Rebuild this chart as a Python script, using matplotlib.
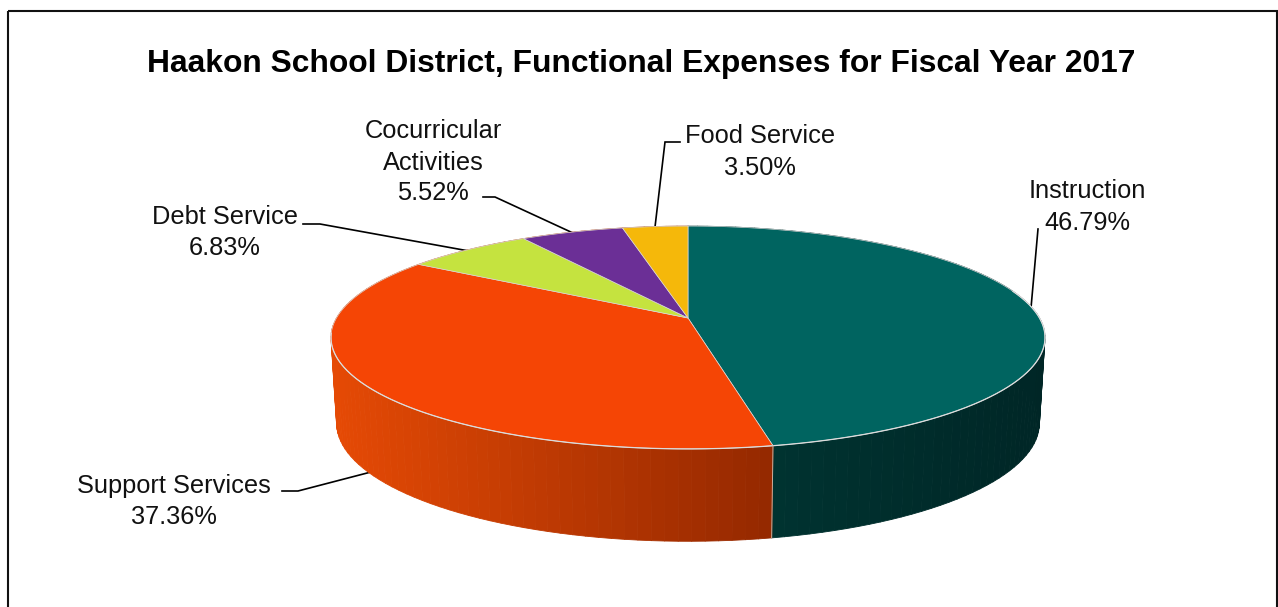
import numpy as np
import matplotlib
matplotlib.use('Agg')
import matplotlib.pyplot as plt
from matplotlib.collections import PolyCollection
from matplotlib.patches import Rectangle

plt.rcParams['font.family'] = ['Liberation Sans', 'DejaVu Sans']

title = 'Haakon School District, Functional Expenses for Fiscal Year 2017'
categories = ['Instruction', 'Support Services', 'Debt Service', 'Cocurricular Activities', 'Food Service']
shares = [46.79, 37.36, 6.83, 5.52, 3.50]
colors = ['#006460', '#F54505', '#C5E33F', '#6B2F96', '#F5B80A']

# side wall shading, left to right across the pie
side_x = [331, 773]
side_orange = [(0.90, 0.29, 0.02), (0.58, 0.16, 0.0)]
side_x2 = [773, 1045]
side_teal = [(0.0, 0.20, 0.19), (0.0, 0.15, 0.15)]

# label lines: text, x centre, y centre
label_lines = [
    ('Instruction', 1087, 191), ('46.79%', 1087, 223),
    ('Support Services', 174, 486), ('37.36%', 174, 517),
    ('Debt Service', 225, 217), ('6.83%', 225, 248),
    ('Cocurricular', 433, 131), ('Activities', 433, 163), ('5.52%', 433, 193),
    ('Food Service', 760, 136), ('3.50%', 760, 168),
]

leaders = [
    [(1038, 229), (1031, 308)],
    [(282, 491), (298, 491), (371, 472)],
    [(303, 224), (320, 224), (469, 251)],
    [(483, 197), (495, 197), (573, 233)],
    [(680, 142), (665, 142), (655, 227)],
]


def project(ang, cx=688.0, cy=318.0, a=351.5, b=108.0, k=0.175):
    # circle point to screen, clockwise from the top, with a bit of perspective
    u = np.sin(ang)
    v = np.cos(ang)
    d = 1 + k * v
    return cx + a * u / d, cy - b * v / d


def project_bottom(ang):
    return project(ang, cy=402.5, a=346.0, b=114.5)


fig = plt.figure(figsize=(12.78, 6.07), dpi=100)
ax = fig.add_axes([0, 0, 1, 1])
ax.set_xlim(0, 1278)
ax.set_ylim(607, 0)
ax.axis('off')

ax.add_patch(Rectangle((8, 10.5), 1269, 620, fill=False, edgecolor='#111111', lw=1.5))

edges = np.radians(np.concatenate([[0], np.cumsum(shares)]) * 3.6)

# side wall
for i in range(len(shares)):
    ang = np.linspace(edges[i], edges[i + 1], max(4, int(shares[i] * 2)))
    xt, yt = project(ang)
    xb, yb = project_bottom(ang)
    polys = []
    cols = []
    for j in range(len(ang) - 1):
        polys.append([(xt[j], yt[j]), (xt[j + 1], yt[j + 1]), (xb[j + 1], yb[j + 1]), (xb[j], yb[j])])
        xm = (xt[j] + xt[j + 1]) / 2
        if i == 0:
            c = [np.interp(xm, side_x2, [p[n] for p in side_teal]) for n in range(3)]
        else:
            c = [np.interp(xm, side_x, [p[n] for p in side_orange]) for n in range(3)]
        cols.append(c)
    ax.add_collection(PolyCollection(polys, facecolors=cols, edgecolors=cols, linewidths=0.6, zorder=2))

# top face
cx0, cy0 = project(0.0, a=0.0, b=0.0)
for i in range(len(shares)):
    ang = np.linspace(edges[i], edges[i + 1], max(4, int(shares[i] * 5)))
    xt, yt = project(ang)
    ax.fill(np.r_[cx0, xt], np.r_[cy0, yt], facecolor=colors[i], edgecolor='#d9d9d9',
            linewidth=0.5, zorder=3, joinstyle='round')

# light rim along the front and the seam between the two front walls
ang = np.linspace(np.radians(75), np.radians(262), 300)
xt, yt = project(ang)
ax.plot(xt, yt, color='#dcdcdc', lw=0.9, zorder=4)
xt, yt = project(edges[1])
xb, yb = project_bottom(edges[1])
ax.plot([xt, xb], [yt, yb], color='#c9b0a0', lw=0.7, zorder=4)

for pts in leaders:
    ax.plot([p[0] for p in pts], [p[1] for p in pts], color='black', lw=1.2, zorder=1,
            solid_joinstyle='miter')

ax.text(641.5, 64, title, fontsize=22.9, fontweight='bold', ha='center', va='center', color='black')

for txt, x, y in label_lines:
    ax.text(x, y, txt, fontsize=18.3, ha='center', va='center', color='#111111')

fig.savefig('out.png', dpi=100)
